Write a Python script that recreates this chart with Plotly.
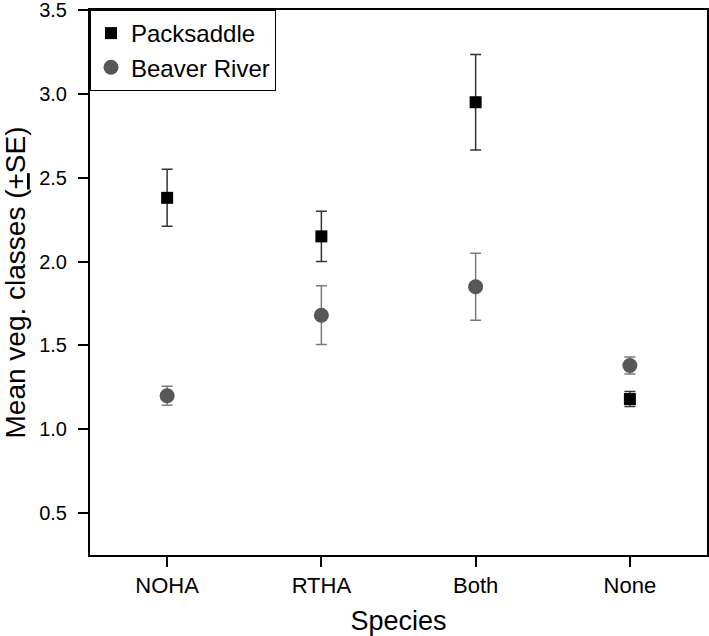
import plotly.graph_objects as go

categories = ["NOHA", "RTHA", "Both", "None"]
packsaddle_mean = [2.38, 2.15, 2.95, 1.18]
packsaddle_se = [0.17, 0.15, 0.285, 0.045]
beaver_mean = [1.20, 1.68, 1.85, 1.38]
beaver_se = [0.057, 0.175, 0.20, 0.05]
y_ticks = [0.5, 1.0, 1.5, 2.0, 2.5, 3.0, 3.5]

FONT = "Liberation Sans, Arial, sans-serif"

fig = go.Figure()
fig.add_trace(go.Scatter(
    x=categories, y=packsaddle_mean, mode="markers", name="Packsaddle",
    marker=dict(symbol="square", size=12, color="black"),
    error_y=dict(type="data", array=packsaddle_se, visible=True,
                 color="#333333", thickness=1.5, width=5.5),
))
fig.add_trace(go.Scatter(
    x=categories, y=beaver_mean, mode="markers", name="Beaver River",
    marker=dict(symbol="circle", size=15, color="#575757"),
    error_y=dict(type="data", array=beaver_se, visible=True,
                 color="#7a7a7a", thickness=1.5, width=5.5),
))

fig.update_layout(
    width=709, height=636,
    margin=dict(l=90, r=2, t=10, b=81),
    plot_bgcolor="white", paper_bgcolor="white",
    font=dict(family=FONT, color="black", size=20),
    legend=dict(x=0, y=1, xanchor="left", yanchor="top",
                bgcolor="white", bordercolor="black", borderwidth=1,
                font=dict(size=24), itemsizing="trace",
                tracegroupgap=0),
    showlegend=True,
)
fig.update_xaxes(
    type="category", range=[-0.5, 3.5], automargin=False,
    showline=True, linecolor="black", linewidth=2, mirror=True,
    ticks="outside", ticklen=10, tickwidth=2, tickcolor="black",
    showgrid=False, zeroline=False,
    tickfont=dict(size=22),
    title=dict(text="Species", font=dict(size=27), standoff=15),
)
fig.update_yaxes(
    range=[0.25, 3.5], automargin=False, ticklabeloverflow="allow",
    ticklabelstandoff=7,
    tickvals=y_ticks, ticktext=[f"{v:.1f}" for v in y_ticks],
    showline=True, linecolor="black", linewidth=2, mirror=True,
    ticks="outside", ticklen=10, tickwidth=2, tickcolor="black",
    showgrid=False, zeroline=False,
    tickfont=dict(size=20),
    title=dict(text="Mean veg. classes (<u>+</u>SE)", font=dict(size=28), standoff=6),
)

fig.write_html("out.html", config={"displayModeBar": False},
               post_script="document.body.style.margin='0px';")
